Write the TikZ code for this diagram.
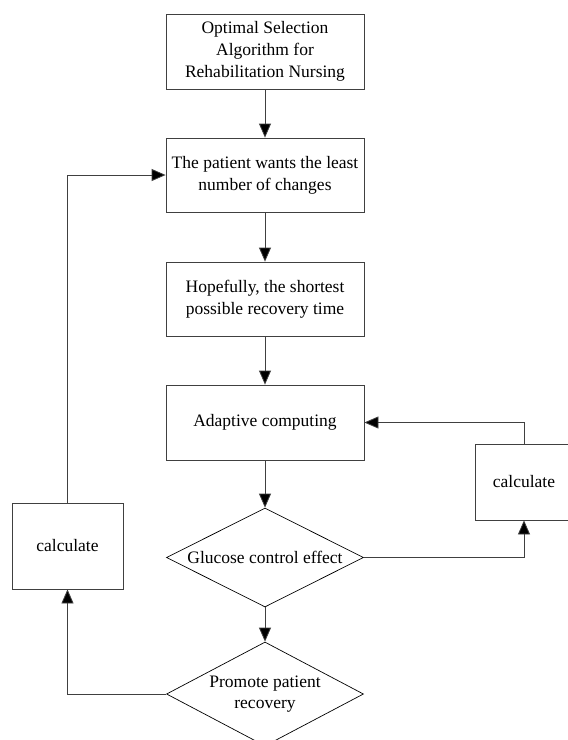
\documentclass[tikz,border=0pt]{standalone}
\usepackage{fontspec}
\setmainfont{Liberation Serif}
\usetikzlibrary{shapes.geometric,arrows.meta}
\begin{document}
\begin{tikzpicture}[x=1pt,y=-1pt,
  every node/.style={font=\fontsize{17.5}{21.7}\selectfont, align=center, inner sep=0pt},
  boxnode/.style={draw=black!75, line width=0.8pt, rectangle, minimum width=198pt},
  dnode/.style={draw=black, line width=0.7pt, diamond, minimum width=197pt},
  conn/.style={draw=black!75, line width=0.8pt, -{Triangle[length=14pt,width=12pt,fill=black]}},
  plain/.style={draw=black!75, line width=0.8pt}]
\useasboundingbox (0,0) rectangle (568,740);
\fill[white] (0,0) rectangle (568,740);
\node[boxnode, minimum height=75pt] (b1) at (265,51.5) {Optimal Selection\\Algorithm for\\Rehabilitation Nursing};
\node[boxnode, minimum height=74pt] (b2) at (265,175) {The patient wants the least\\number of changes};
\node[boxnode, minimum height=74pt] (b3) at (265,299) {Hopefully, the shortest\\possible recovery time};
\node[boxnode, minimum height=75pt] (b4) at (265,422.5) {Adaptive computing};
\node[dnode, minimum height=99pt] (d1) at (265,557.5) {};
\node (t1) at (d1) {Glucose control effect};
\node[dnode, minimum height=104pt] (d2) at (265,694) {};
\node (t2) at (d2) {Promote patient\\recovery};
\node[boxnode, minimum width=111pt, minimum height=86pt] (lc) at (67.5,546) {calculate};
\node[boxnode, minimum width=98pt, minimum height=76pt] (rc) at (524,482) {calculate};
\draw[conn] (b1.south) -- (b2.north);
\draw[conn] (b2.south) -- (b3.north);
\draw[conn] (b3.south) -- (b4.north);
\draw[conn] (b4.south) -- (d1.north);
\draw[conn] (d1.south) -- (d2.north);
\draw[conn] (d2.west) -| (lc.south);
\draw[conn] (lc.north) |- (b2.west);
\draw[conn] (d1.east) -| (rc.south);
\draw[conn] (rc.north) |- (b4.east);
\end{tikzpicture}
\end{document}
